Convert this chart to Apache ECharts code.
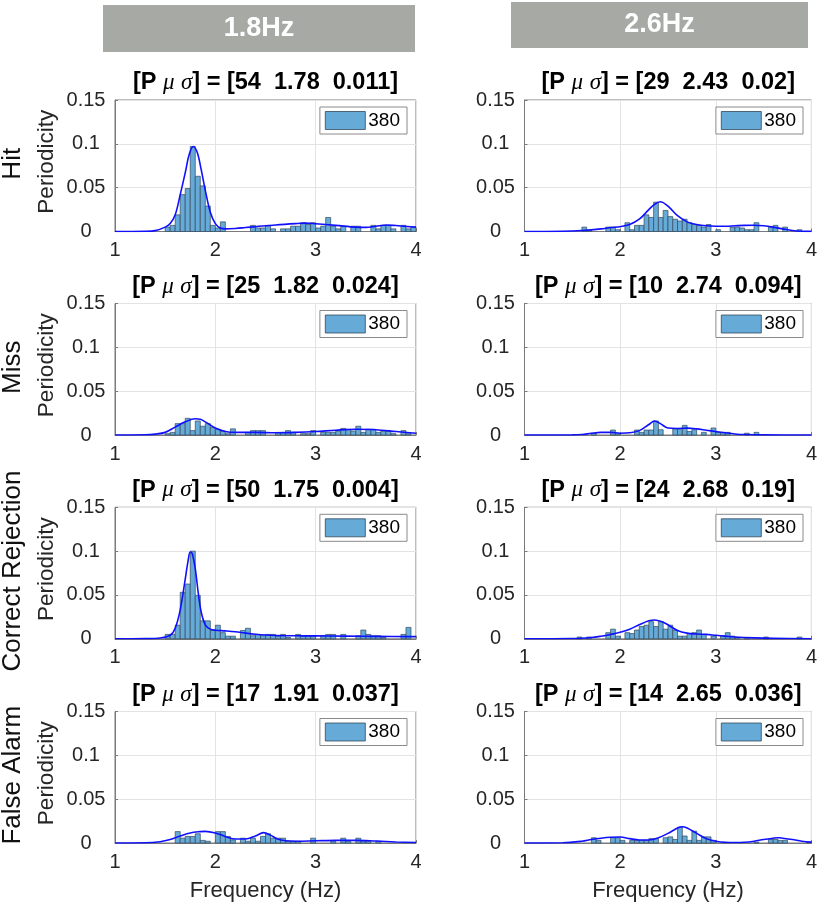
<!DOCTYPE html>
<html><head><meta charset="utf-8">
<script src="https://cdn.jsdelivr.net/npm/echarts@6/dist/echarts.min.js"></script>
<style>html,body{margin:0;padding:0;background:#fff}#c{width:820px;height:906px}</style>
</head><body><div id="c"></div>
<script>
// ---------------- data ----------------
const stimuli = ['1.8Hz', '2.6Hz'];
const conditions = ['Hit', 'Miss', 'Correct Rejection', 'False Alarm'];
const legendLabel = '380';
const xTicks = [1, 2, 3, 4];
const yTicks = [0, 0.05, 0.1, 0.15];
const binWidth = 0.05;

// fit parameters [P, mu, sigma] per panel
const hitLowParams  = ['54', '1.78', '0.011'];
const hitHighParams = ['29', '2.43', '0.02'];
const missLowParams  = ['25', '1.82', '0.024'];
const missHighParams = ['10', '2.74', '0.094'];
const crLowParams  = ['50', '1.75', '0.004'];
const crHighParams = ['24', '2.68', '0.19'];
const faLowParams  = ['17', '1.91', '0.037'];
const faHighParams = ['14', '2.65', '0.036'];

// histogram bins: [bin start (Hz), periodicity]
const hitLowBars = [[1.50,0.005],[1.55,0.007],[1.60,0.019],[1.65,0.042],[1.70,0.049],[1.75,0.097],[1.80,0.063],[1.85,0.052],[1.90,0.029],[1.95,0.007],[2.00,0.004],[2.05,0.011],[2.35,0.007],[2.40,0.004],[2.45,0.004],[2.50,0.007],[2.55,0.003],[2.65,0.003],[2.70,0.003],[2.75,0.006],[2.80,0.006],[2.85,0.010],[2.90,0.008],[2.95,0.010],[3.00,0.004],[3.05,0.006],[3.10,0.016],[3.15,0.006],[3.20,0.003],[3.25,0.006],[3.35,0.006],[3.40,0.006],[3.55,0.007],[3.60,0.003],[3.65,0.007],[3.70,0.007],[3.75,0.003],[3.85,0.007],[3.90,0.003],[3.95,0.005]];
const hitHighBars = [[1.60,0.005],[1.65,0.0015],[1.85,0.005],[1.90,0.005],[1.95,0.002],[2.05,0.010],[2.10,0.002],[2.15,0.007],[2.20,0.007],[2.25,0.019],[2.30,0.016],[2.35,0.0335],[2.40,0.016],[2.45,0.024],[2.50,0.017],[2.55,0.014],[2.60,0.012],[2.65,0.014],[2.70,0.010],[2.75,0.008],[2.80,0.007],[2.85,0.005],[2.90,0.008],[3.00,0.002],[3.15,0.005],[3.20,0.005],[3.25,0.004],[3.30,0.002],[3.35,0.002],[3.40,0.010],[3.55,0.005],[3.60,0.007],[3.70,0.005],[3.85,0.002]];
const missLowBars = [[1.50,0.0015],[1.55,0.003],[1.60,0.013],[1.65,0.013],[1.70,0.019],[1.75,0.005],[1.80,0.016],[1.85,0.010],[1.90,0.013],[1.95,0.0085],[2.00,0.0065],[2.05,0.0045],[2.10,0.0015],[2.15,0.007],[2.30,0.003],[2.35,0.005],[2.40,0.005],[2.45,0.005],[2.60,0.003],[2.65,0.003],[2.70,0.005],[2.75,0.003],[2.85,0.0015],[2.90,0.0015],[2.95,0.005],[3.05,0.003],[3.10,0.003],[3.15,0.003],[3.20,0.0045],[3.25,0.0075],[3.30,0.0065],[3.35,0.0045],[3.40,0.010],[3.45,0.003],[3.50,0.0065],[3.55,0.0065],[3.60,0.003],[3.65,0.0045],[3.70,0.0045],[3.75,0.0015],[3.85,0.005],[3.90,0.0015]];
const missHighBars = [[1.70,0.002],[1.90,0.0057],[1.95,0.0015],[2.15,0.0057],[2.20,0.003],[2.25,0.0057],[2.30,0.0057],[2.35,0.016],[2.40,0.006],[2.55,0.007],[2.60,0.007],[2.65,0.011],[2.70,0.004],[2.75,0.006],[2.85,0.003],[2.95,0.008],[3.00,0.003],[3.05,0.003],[3.10,0.003],[3.30,0.002],[3.40,0.003]];
const crLowBars = [[1.50,0.005],[1.55,0.005],[1.60,0.0155],[1.65,0.053],[1.70,0.0625],[1.75,0.100],[1.80,0.0495],[1.85,0.0205],[1.90,0.0205],[1.95,0.010],[2.00,0.0155],[2.05,0.007],[2.10,0.003],[2.15,0.003],[2.25,0.0095],[2.30,0.012],[2.35,0.0035],[2.40,0.005],[2.45,0.0035],[2.50,0.005],[2.55,0.005],[2.60,0.003],[2.65,0.005],[2.70,0.0015],[2.80,0.005],[2.85,0.003],[2.90,0.003],[2.95,0.003],[3.05,0.0035],[3.10,0.005],[3.15,0.005],[3.25,0.005],[3.40,0.0035],[3.45,0.010],[3.50,0.005],[3.55,0.0035],[3.60,0.0035],[3.65,0.0015],[3.85,0.005],[3.90,0.013]];
const crHighBars = [[1.55,0.002],[1.65,0.002],[1.85,0.007],[1.90,0.011],[1.95,0.003],[2.05,0.007],[2.10,0.006],[2.15,0.010],[2.20,0.014],[2.25,0.0155],[2.30,0.0195],[2.35,0.014],[2.40,0.0195],[2.45,0.011],[2.50,0.0155],[2.55,0.010],[2.60,0.003],[2.65,0.003],[2.70,0.006],[2.75,0.007],[2.80,0.010],[2.85,0.005],[2.95,0.003],[3.05,0.003],[3.10,0.007],[3.15,0.003],[3.20,0.0015],[3.30,0.0015],[3.50,0.002],[3.85,0.002]];
const faLowBars = [[1.60,0.013],[1.65,0.0055],[1.70,0.0075],[1.75,0.0075],[1.80,0.0105],[1.85,0.003],[1.90,0.002],[2.00,0.013],[2.05,0.013],[2.10,0.0075],[2.15,0.0035],[2.25,0.0055],[2.30,0.002],[2.35,0.0055],[2.40,0.002],[2.45,0.0075],[2.50,0.0105],[2.55,0.0055],[2.60,0.0055],[2.65,0.0055],[2.70,0.002],[2.75,0.002],[2.80,0.002],[2.95,0.0055],[3.15,0.002],[3.25,0.0055],[3.30,0.002],[3.40,0.0055],[3.45,0.002],[3.50,0.002],[3.60,0.002]];
const faHighBars = [[1.70,0.006],[1.75,0.003],[1.90,0.006],[1.95,0.006],[2.00,0.003],[2.10,0.003],[2.15,0.003],[2.20,0.003],[2.25,0.003],[2.30,0.005],[2.35,0.005],[2.45,0.006],[2.50,0.007],[2.55,0.004],[2.60,0.018],[2.65,0.008],[2.70,0.003],[2.75,0.0135],[2.80,0.003],[2.85,0.007],[2.90,0.007],[2.95,0.003],[3.40,0.001],[3.55,0.004],[3.60,0.004],[3.65,0.003],[3.70,0.003],[3.95,0.001]];

// fitted curves: [Hz, periodicity]
const hitLowFit = [[1.0,0],[1.3,0.0002],[1.4,0.001],[1.5,0.005],[1.55,0.009],[1.6,0.019],[1.65,0.042],[1.7,0.067],[1.74,0.088],[1.78,0.097],[1.82,0.09],[1.86,0.07],[1.9,0.047],[1.95,0.022],[2.0,0.009],[2.05,0.004],[2.1,0.003],[2.2,0.0035],[2.3,0.0045],[2.4,0.0055],[2.6,0.0075],[2.8,0.009],[2.9,0.0095],[3.0,0.0088],[3.2,0.007],[3.4,0.005],[3.5,0.0047],[3.6,0.006],[3.7,0.0075],[3.8,0.0068],[3.9,0.0058],[4.0,0.005]];
const hitHighFit = [[1.0,0],[1.4,0.0003],[1.6,0.0012],[1.8,0.003],[1.9,0.0045],[2.0,0.0055],[2.1,0.008],[2.2,0.014],[2.3,0.025],[2.36,0.031],[2.42,0.034],[2.5,0.029],[2.6,0.018],[2.7,0.011],[2.8,0.008],[2.9,0.0065],[3.0,0.006],[3.1,0.006],[3.2,0.0065],[3.3,0.007],[3.4,0.0072],[3.5,0.0065],[3.6,0.005],[3.7,0.003],[3.8,0.0012],[3.9,0.0003],[4.0,0.0001]];
const missLowFit = [[1.0,0],[1.3,0.0002],[1.4,0.001],[1.5,0.003],[1.6,0.009],[1.7,0.015],[1.8,0.0185],[1.85,0.018],[1.9,0.015],[2.0,0.008],[2.1,0.004],[2.2,0.003],[2.4,0.003],[2.6,0.0025],[2.8,0.003],[3.0,0.004],[3.2,0.0055],[3.4,0.0065],[3.6,0.006],[3.8,0.004],[4.0,0.002]];
const missHighFit = [[1.0,0],[1.5,0.0001],[1.6,0.0005],[1.7,0.002],[1.8,0.003],[1.9,0.003],[2.0,0.002],[2.1,0.0025],[2.2,0.005],[2.3,0.012],[2.36,0.016],[2.42,0.013],[2.5,0.008],[2.6,0.0075],[2.7,0.0078],[2.8,0.007],[2.9,0.0055],[3.0,0.004],[3.1,0.0025],[3.2,0.0012],[3.3,0.0005],[3.5,0.0001],[4.0,0]];
const crLowFit = [[1.0,0],[1.3,0.0002],[1.45,0.001],[1.55,0.004],[1.6,0.012],[1.65,0.033],[1.7,0.068],[1.73,0.09],[1.75,0.099],[1.77,0.097],[1.8,0.08],[1.83,0.052],[1.86,0.03],[1.9,0.016],[1.95,0.011],[2.0,0.0098],[2.1,0.009],[2.2,0.008],[2.3,0.0065],[2.4,0.0052],[2.5,0.0043],[2.6,0.0038],[2.8,0.0035],[3.0,0.0033],[3.3,0.003],[3.6,0.0028],[4.0,0.0025]];
const crHighFit = [[1.0,0],[1.5,0.0003],[1.7,0.0015],[1.8,0.003],[1.9,0.005],[2.0,0.0075],[2.1,0.011],[2.2,0.016],[2.3,0.0205],[2.36,0.0215],[2.45,0.019],[2.5,0.016],[2.6,0.0095],[2.7,0.0065],[2.8,0.0055],[2.9,0.005],[3.0,0.004],[3.1,0.003],[3.2,0.002],[3.4,0.001],[3.6,0.0005],[4.0,0.0001]];
const faLowFit = [[1.0,0],[1.3,0.0002],[1.45,0.0015],[1.55,0.004],[1.65,0.008],[1.75,0.0115],[1.85,0.013],[1.9,0.0133],[2.0,0.0115],[2.1,0.0075],[2.2,0.0045],[2.3,0.0045],[2.4,0.008],[2.48,0.0118],[2.55,0.009],[2.62,0.0045],[2.7,0.0025],[2.8,0.002],[3.0,0.0025],[3.2,0.003],[3.4,0.003],[3.6,0.0022],[3.8,0.0012],[4.0,0.0005]];
const faHighFit = [[1.0,0],[1.4,0.0002],[1.6,0.002],[1.7,0.004],[1.8,0.0055],[1.9,0.0065],[2.0,0.0068],[2.1,0.005],[2.2,0.0035],[2.3,0.0035],[2.4,0.006],[2.5,0.011],[2.6,0.017],[2.65,0.0185],[2.7,0.017],[2.8,0.011],[2.9,0.005],[3.0,0.002],[3.1,0.0007],[3.2,0.0005],[3.3,0.0008],[3.4,0.002],[3.5,0.004],[3.6,0.0055],[3.65,0.006],[3.7,0.0055],[3.8,0.004],[3.9,0.002],[4.0,0.001]];

// ---------------- layout / style ----------------
const W = 820;
const colLeft = [115, 524.5];
const colWidth = [301, 287.5];
const rowTop = [100, 303.5, 507.3, 711.5];
const plotH = 131.5;
const FONT = '"Liberation Sans", Arial, Helvetica, sans-serif';
const AX = '#262626';
const barFill = '#66aad7';
const barEdge = '#34495a';

const panels = [
  [hitLowBars, hitLowFit, hitLowParams], [hitHighBars, hitHighFit, hitHighParams],
  [missLowBars, missLowFit, missLowParams], [missHighBars, missHighFit, missHighParams],
  [crLowBars, crLowFit, crLowParams], [crHighBars, crHighFit, crHighParams],
  [faLowBars, faLowFit, faLowParams], [faHighBars, faHighFit, faHighParams]
];

function renderBin(params, api) {
  const c = api.value(0), h = api.value(1);
  const a = api.coord([c - binWidth / 2, h]);
  const b = api.coord([c + binWidth / 2, 0]);
  return {
    type: 'rect',
    shape: { x: a[0], y: a[1], width: b[0] - a[0], height: b[1] - a[1] },
    style: { fill: barFill, stroke: barEdge, lineWidth: 0.7 }
  };
}

const grid = [], xAxis = [], yAxis = [], series = [], legend = [], graphic = [];

panels.forEach((p, i) => {
  const r = Math.floor(i / 2), c = i % 2;
  const left = colLeft[c], width = colWidth[c], top = rowTop[r];
  grid.push({ left: left, top: top, width: width, height: plotH, show: true,
    borderColor: '#7a7a7a', borderWidth: 1, backgroundColor: '#fff' });
  xAxis.push({
    gridIndex: i, type: 'value', min: xTicks[0], max: xTicks[xTicks.length - 1], interval: 1,
    axisLine: { show: true, onZero: false, lineStyle: { color: '#7a7a7a', width: 1 } },
    axisTick: { show: true, inside: true, length: 3, lineStyle: { color: '#7a7a7a' } },
    axisLabel: { show: true, margin: 9, fontSize: 20, fontFamily: FONT, color: AX },
    splitLine: { show: true, lineStyle: { color: '#e3e3e3', width: 1 } },
    name: r === 3 ? 'Frequency (Hz)' : '', nameLocation: 'middle', nameGap: 37,
    nameTextStyle: { fontSize: 22, fontFamily: FONT, color: AX }
  });
  yAxis.push({
    gridIndex: i, type: 'value', min: yTicks[0], max: yTicks[yTicks.length - 1], interval: 0.05,
    axisLine: { show: true, lineStyle: { color: '#7a7a7a', width: 1 } },
    axisTick: { show: true, inside: true, length: 3, lineStyle: { color: '#7a7a7a' } },
    axisLabel: { show: true, margin: 29, align: 'center', fontSize: 20, fontFamily: FONT, color: AX,
      formatter: v => String(+v.toFixed(2)) },
    splitLine: { show: true, lineStyle: { color: '#e3e3e3', width: 1 } }
  });
  series.push({
    type: 'custom', name: legendLabel, xAxisIndex: i, yAxisIndex: i,
    renderItem: renderBin, itemStyle: { color: barFill },
    encode: { x: 0, y: 1 },
    data: p[0].map(d => [d[0] + binWidth / 2, d[1]]), z: 2
  });
  series.push({
    type: 'line', name: 'fit', xAxisIndex: i, yAxisIndex: i,
    data: p[1], smooth: 0.35, showSymbol: false, symbol: 'none',
    lineStyle: { color: '#1010ff', width: 1.6 }, z: 3, silent: true
  });
  legend.push({
    data: [legendLabel], selectedMode: false,
    right: W - (left + width - 9), top: top + 7,
    orient: 'vertical', padding: [4, 7, 4, 5],
    itemWidth: 40, itemHeight: 18, icon: 'rect',
    itemStyle: { color: barFill, borderColor: barEdge, borderWidth: 0.8 },
    backgroundColor: '#fff', borderColor: '#8a8a8a', borderWidth: 1, borderRadius: 0,
    textStyle: { fontSize: 19, fontFamily: FONT, color: '#000', padding: [0, 0, 0, -2] }
  });
  // panel title
  graphic.push({
    type: 'text', x: left + width / 2, y: top - 17, z: 10,
    style: {
      text: '[P {i|μ} {i|σ}] = [' + p[2][0] + '  ' + p[2][1] + '  ' + p[2][2] + ']',
      align: 'center', verticalAlign: 'middle',
      font: 'bold 23.5px ' + FONT, fill: '#000',
      rich: { i: { fontFamily: '"Liberation Serif", serif', fontStyle: 'italic', fontWeight: 'normal', fontSize: 23, fill: '#000' } }
    }
  });
});

// row labels and y-axis name
conditions.forEach((name, r) => {
  const cy = rowTop[r] + plotH / 2;
  graphic.push({ type: 'text', x: 13, y: cy - 2, rotation: Math.PI / 2, z: 10,
    style: { text: name, align: 'center', verticalAlign: 'middle', font: '26px ' + FONT, fill: '#111' } });
  graphic.push({ type: 'text', x: 47, y: cy - 4, rotation: Math.PI / 2, z: 10,
    style: { text: 'Periodicity', align: 'center', verticalAlign: 'middle', font: '22.5px ' + FONT, fill: AX } });
});

// column headers
const headerBoxes = [[103, 5, 312, 47], [511, 2, 297, 46]];
stimuli.forEach((s, c) => {
  const b = headerBoxes[c];
  graphic.push({ type: 'rect', shape: { x: b[0], y: b[1], width: b[2], height: b[3] }, z: 1,
    style: { fill: '#a6a9a4' } });
  graphic.push({ type: 'text', x: b[0] + b[2] / 2, y: b[1] + b[3] / 2, z: 2,
    style: { text: s, align: 'center', verticalAlign: 'middle', font: 'bold 27px ' + FONT, fill: '#fff' } });
});

const chart = echarts.init(document.getElementById('c'), null, { renderer: 'canvas' });
chart.setOption({
  animation: false,
  backgroundColor: '#fff',
  grid, xAxis, yAxis, series, legend, graphic
});
</script></body></html>
